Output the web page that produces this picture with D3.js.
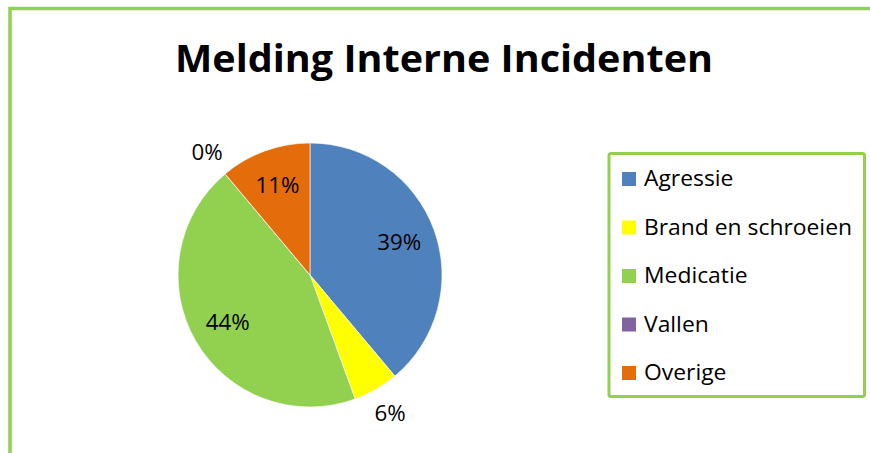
<!DOCTYPE html>
<html>
<head>
<meta charset="utf-8">
<script src="https://cdn.jsdelivr.net/npm/d3@7"></script>
<style>
  html, body { margin: 0; padding: 0; background: #fff; }
  svg { display: block; font-family: "Open Sans", "Noto Sans", sans-serif; }
</style>
</head>
<body>
<svg id="chart" width="870" height="453"></svg>
<script>
// data
const categories = ["Agressie", "Brand en schroeien", "Medicatie", "Vallen", "Overige"]
const counts = [7, 1, 8, 0, 2]
const colors = ["#4f81bd", "#ffff00", "#92d050", "#8064a2", "#e46c0a"]
const title = "Melding Interne Incidenten"

const width = 870
const height = 453
const frameColor = "#92d050"

const svg = d3.select("#chart")

// squeeze a group of texts so the reference one gets the target width
// (the original font is narrower than the ones we have)
function condense(nodes, refNode, target) {
  const ratio = target / refNode.getComputedTextLength()
  nodes.forEach((n) => {
    const w = n.getComputedTextLength()
    d3.select(n).attr("textLength", w * ratio).attr("lengthAdjust", "spacingAndGlyphs")
  })
}

// outer frame (only left and top visible, rest cropped)
svg.append("rect")
  .attr("x", 10).attr("y", 8.5)
  .attr("width", width + 20).attr("height", height + 20)
  .attr("fill", "none")
  .attr("stroke", frameColor)
  .attr("stroke-width", 3.5)

// title
const titleText = svg.append("text")
  .attr("x", 444).attr("y", 72)
  .attr("text-anchor", "middle")
  .attr("font-size", 37)
  .attr("font-weight", "bold")
  .attr("fill", "#000")
  .text(title)
condense([titleText.node()], titleText.node(), 538)

// pie
const cx = 310, cy = 275, R = 132
const total = d3.sum(counts)
const pie = d3.pie().sort(null).value((d) => d)
const arcs = pie(counts)
const arc = d3.arc().innerRadius(0).outerRadius(R)
const inLabel = d3.arc().innerRadius(95).outerRadius(95)
const outLabel = d3.arc().innerRadius(160).outerRadius(160)

const g = svg.append("g").attr("transform", `translate(${cx}, ${cy})`)

g.selectAll("path")
  .data(arcs)
  .enter()
  .append("path")
  .attr("d", arc)
  .attr("fill", (d, i) => colors[i])
  .attr("stroke", "#fff")
  .attr("stroke-width", 0.6)

const labels = g.selectAll("text.lbl")
  .data(arcs)
  .enter()
  .append("text")
  .attr("class", "lbl")
  .attr("transform", (d) => {
    const small = d.value / total < 0.08
    const p = (small ? outLabel : inLabel).centroid(d)
    return `translate(${p[0]}, ${p[1]})`
  })
  .attr("text-anchor", "middle")
  .attr("dy", "0.36em")
  .attr("font-size", 21)
  .attr("fill", "#000")
  .text((d) => Math.round(d.value / total * 100) + "%")
condense(labels.nodes(), labels.nodes()[0], 44)

// legend
const legend = svg.append("g")
legend.append("rect")
  .attr("x", 609).attr("y", 153.5)
  .attr("width", 255.5).attr("height", 243)
  .attr("rx", 2)
  .attr("fill", "#fff")
  .attr("stroke", frameColor)
  .attr("stroke-width", 3)

const rowY = d3.scalePoint().domain(categories).range([186, 380])

const items = legend.selectAll("g.item")
  .data(categories)
  .enter()
  .append("g")
  .attr("class", "item")
  .attr("transform", (d) => `translate(622, ${rowY(d)})`)

items.append("rect")
  .attr("x", 0).attr("y", -14)
  .attr("width", 14).attr("height", 14)
  .attr("fill", (d, i) => colors[i])

const legendText = items.append("text")
  .attr("x", 22).attr("y", 0)
  .attr("font-size", 21.5)
  .attr("fill", "#000")
  .text((d) => d)
condense(legendText.nodes(), legendText.nodes()[1], 208)
</script>
</body>
</html>
